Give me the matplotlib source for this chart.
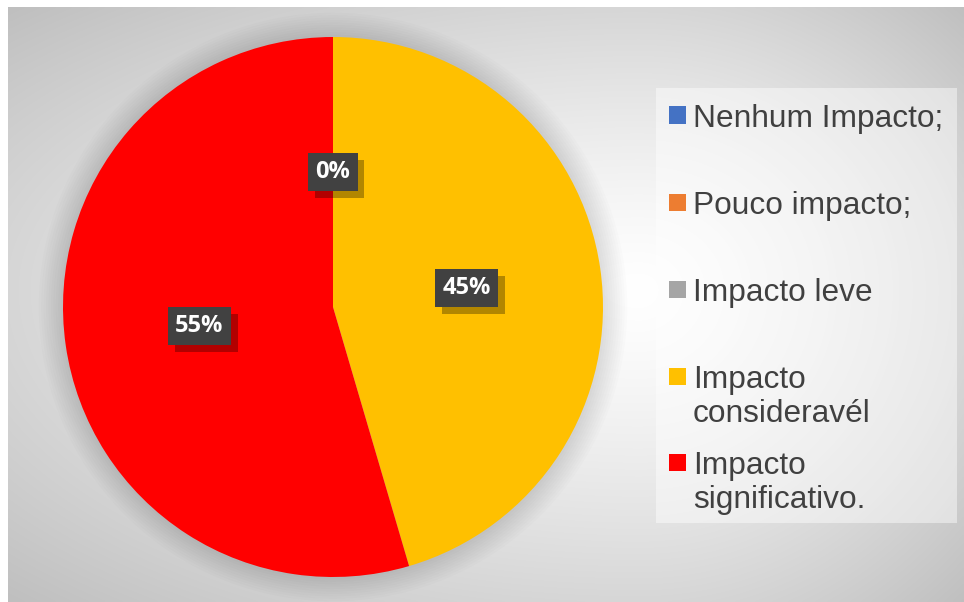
import numpy as np
import matplotlib
matplotlib.use("Agg")
import matplotlib.pyplot as plt
from matplotlib.patches import Rectangle, Circle
import matplotlib.patheffects as pe

categories = ["Nenhum Impacto;", "Pouco impacto;", "Impacto leve",
              "Impacto\nconsideravél", "Impacto\nsignificativo."]
values = [0, 0, 0, 5, 6]
colors = ["#4472C4", "#ED7D31", "#A5A5A5", "#FFC000", "#FF0000"]

W, H = 964, 602
fig = plt.figure(figsize=(W / 100, H / 100), dpi=100, facecolor="white")

def fx(px):
    return px / W

def fy(py):
    return 1 - py / H

# background gradient panel
bg = fig.add_axes([fx(8), 0, 1 - fx(8), fy(7)])
bg.set_axis_off()
xs = np.linspace(8, W, 400)
ys = np.linspace(7, H, 260)
X, Y = np.meshgrid(xs, ys)
cx, cy = 640, 290
dx = X - cx
dy = Y - cy
ax_ = np.where(dx < 0, 632.0, 330.0)
ay_ = np.where(dy < 0, 283.0, 312.0)
t = np.sqrt((dx / ax_) ** 2 + (dy / ay_) ** 2)
c = 1 - 0.16 * t ** 1.3
c = np.clip(c, 0, 1)
bg.imshow(np.dstack([c, c, c]), aspect="auto", extent=[0, 1, 0, 1],
          interpolation="bilinear")
bg.set_xlim(0, 1)
bg.set_ylim(0, 1)

# pie
pcx, pcy, r = 333, 307, 270
pax = fig.add_axes([fx(pcx - r), fy(pcy + r), 2 * r / W, 2 * r / H])
pax.set_axis_off()
# soft shadow around pie
for k in range(10):
    pax.add_patch(Circle((0, 0.0), 1.0 + 0.009 * (k + 1), color="black",
                         alpha=0.012, lw=0, zorder=0, clip_on=False))
wedges, texts, autotexts = pax.pie(
    values, colors=colors, startangle=90, counterclock=False, radius=1,
    autopct=lambda p: f"{p:.0f}%", pctdistance=0.5,
    wedgeprops=dict(linewidth=0),
    textprops=dict(color="white", fontsize=17, fontweight="bold",
                   family=["Open Sans", "DejaVu Sans"]))
pax.set_xlim(-1, 1)
pax.set_ylim(-1, 1)
pax.set_aspect("auto")

seen = set()
for at in autotexts:
    pos = tuple(np.round(at.get_position(), 3))
    if pos in seen:
        at.set_visible(False)
        continue
    seen.add(pos)
    at.set_bbox(dict(boxstyle="square,pad=0.3", facecolor="#414141",
                     edgecolor="none"))
    at.get_bbox_patch().set_path_effects([
        pe.SimplePatchShadow(offset=(5, -5), shadow_rgbFace="black", alpha=0.3),
        pe.Normal()])

# legend
lx0, ly0, lx1, ly1 = 656, 88, 957, 523
fig.patches.append(Rectangle((fx(lx0), fy(ly1)), fx(lx1) - fx(lx0),
                             fy(ly0) - fy(ly1), transform=fig.transFigure,
                             facecolor="white", alpha=0.45, edgecolor="none",
                             zorder=2))
ycenters = [115, 202, 289, 376, 462]
for cat, col, yc in zip(categories, colors, ycenters):
    fig.patches.append(Rectangle((fx(669), fy(yc + 8.5)), 17 / W, 17 / H,
                                 transform=fig.transFigure, facecolor=col,
                                 edgecolor="none", zorder=3))
    fig.text(fx(693), fy(yc - 11), cat, ha="left", va="top",
             fontsize=22.8, color="#404040", family="Liberation Sans",
             linespacing=1.17, zorder=4)

fig.savefig("out.png", dpi=100, facecolor="white")
